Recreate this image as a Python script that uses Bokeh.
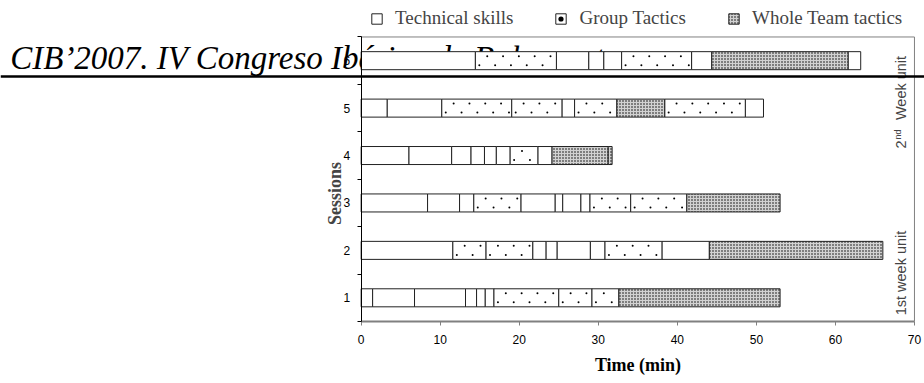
import math
import numpy as np
from bokeh.plotting import figure
from bokeh.models import (Label, Span, FixedTicker, Range1d, Legend, LegendItem,
                          ColumnDataSource)
from bokeh.core.properties import value
from bokeh.embed import file_html
from bokeh.resources import INLINE

# ---------------- data (minutes, cumulative segment end times) ----------------
sessions = [1, 2, 3, 4, 5, 6]
session1_ends = [1.45, 6.75, 13.2, 14.6, 15.7, 16.8, 25.0, 29.2, 32.6, 53.0]
session1_types = ["T", "T", "T", "T", "T", "T", "G", "G", "G", "W"]
session2_ends = [11.6, 15.8, 21.7, 23.4, 24.8, 29.0, 30.85, 38.05, 44.05, 66.0]
session2_types = ["T", "G", "G", "T", "T", "T", "T", "G", "T", "W"]
session3_ends = [8.4, 12.45, 14.25, 20.2, 24.55, 25.5, 27.8, 28.95, 34.1, 41.2, 53.0]
session3_types = ["T", "T", "T", "G", "T", "T", "T", "T", "G", "G", "W"]
session4_ends = [6.05, 11.45, 13.9, 15.6, 17.1, 18.85, 22.35, 24.15, 31.25, 31.75]
session4_types = ["T", "T", "T", "T", "T", "T", "G", "T", "W", "W"]
session5_ends = [3.3, 10.2, 19.05, 25.4, 27.0, 32.35, 38.4, 48.6, 50.9]
session5_types = ["T", "T", "G", "G", "T", "G", "W", "G", "T"]
session6_ends = [14.45, 24.7, 28.8, 30.7, 32.95, 41.8, 44.35, 61.6, 63.2]
session6_types = ["T", "G", "T", "T", "T", "G", "T", "W", "T"]

x_ticks = [0, 10, 20, 30, 40, 50, 60, 70]
type_names = {"T": "Technical skills", "G": "Group Tactics", "W": "Whole Team tactics"}
header_text = "CIB\u20192007. IV Congreso Ib\u00e9rico de Baloncesto"

all_ends = [session1_ends, session2_ends, session3_ends,
            session4_ends, session5_ends, session6_ends]
all_types = [session1_types, session2_types, session3_types,
             session4_types, session5_types, session6_types]

cols = {k: dict(y=[], left=[], right=[]) for k in type_names}
for s, ends, tps in zip(sessions, all_ends, all_types):
    start = 0.0
    for e, t in zip(ends, tps):
        cols[t]["y"].append(s)
        cols[t]["left"].append(start)
        cols[t]["right"].append(e)
        start = e

# ---------------- figure: frame covers the whole canvas ----------------
X0, X1 = x_ticks[0], x_ticks[-1]
Y0, Y1 = sessions[0] - 0.5, sessions[-1] + 0.5
p = figure(width=924, height=383, output_backend="svg", toolbar_location=None,
           x_range=Range1d(-45.63, 71.27), y_range=Range1d(-0.807, 7.269),
           min_border=0)
p.background_fill_color = "white"
p.border_fill_color = "white"
p.outline_line_color = None
p.xgrid.visible = False
p.ygrid.visible = False

# page header text (drawn first so that the bars cover it)
p.text(x=[-44.4], y=[6.067], text=[header_text], text_font=value("Liberation Serif"),
       text_font_style="italic", text_font_size="33px", text_color="black",
       text_baseline="middle", text_align="left")

# plot-area border (top and right, grey)
p.line(x=[X0, X1, X1], y=[Y1, Y1, Y0], line_color="#808080", line_width=1)

bar_h = 0.38
styles = {
    "T": dict(fill_color="white"),
    "G": dict(fill_color="white"),
    "W": dict(fill_color="#d2d2d2", hatch_pattern="dot", hatch_scale=3,
              hatch_color="black"),
}
renderers = {}
for t in ["T", "G", "W"]:
    src = ColumnDataSource(cols[t])
    renderers[t] = p.hbar(y="y", left="left", right="right", height=bar_h, source=src,
                          line_color="#222222", line_width=1, **styles[t])

# sparse stipple of the "Group Tactics" segments
dot_step, dot_row = 2.0, 0.095
sx, sy = [], []
for y, l, r in zip(cols["G"]["y"], cols["G"]["left"], cols["G"]["right"]):
    for off, dy in ((0.5, -dot_row), (1.5, dot_row)):
        xs = np.arange(l + off, r - 0.3, dot_step)
        sx.extend(xs.tolist())
        sy.extend([y + dy] * len(xs))
stipple = p.scatter(x=sx, y=sy, marker="circle", size=2.0, fill_color="black",
                    line_color=None)

# axes at fixed positions inside the frame
p.xaxis.fixed_location = Y0
p.xaxis.bounds = (X0, X1)
p.xaxis.ticker = FixedTicker(ticks=x_ticks)
p.xaxis.axis_line_color = "#808080"
p.xaxis.axis_line_width = 2
p.xaxis.major_tick_line_color = "#808080"
p.xaxis.major_tick_out = 4
p.xaxis.major_tick_in = 0
p.xaxis.minor_tick_line_color = None
p.xaxis.major_label_text_font = "Liberation Sans"
p.xaxis.major_label_text_font_size = "12px"
p.xaxis.major_label_text_color = "black"
p.xaxis.major_label_standoff = 9
p.xaxis.axis_label = "Time (min)"
p.xaxis.axis_label_text_font = "Liberation Serif"
p.xaxis.axis_label_text_font_style = "bold"
p.xaxis.axis_label_text_font_size = "18px"
p.xaxis.axis_label_text_color = "black"
p.xaxis.axis_label_standoff = 8

p.yaxis.fixed_location = X0
p.yaxis.bounds = (Y0, Y1)
p.yaxis.ticker = FixedTicker(ticks=sessions, minor_ticks=[s - 0.5 for s in sessions] + [Y1])
p.yaxis.axis_line_color = "black"
p.yaxis.axis_line_width = 1
p.yaxis.major_tick_out = 0
p.yaxis.major_tick_in = 0
p.yaxis.minor_tick_out = 4
p.yaxis.minor_tick_in = 0
p.yaxis.minor_tick_line_color = "black"
p.yaxis.major_label_text_font = "Liberation Sans"
p.yaxis.major_label_text_font_size = "12px"
p.yaxis.major_label_text_color = "black"
p.yaxis.major_label_standoff = 7

p.add_layout(Label(x=-3.25, y=3.2, text="Sessions", angle=math.pi / 2,
                   text_font="Liberation Serif", text_font_style="bold",
                   text_font_size="18px", text_align="center", text_baseline="middle"))

# right-hand unit labels
p.add_layout(Label(x=68.35, y=5.424, text="Week unit", angle=math.pi / 2,
                   text_font="Liberation Sans", text_font_size="14.5px",
                   text_align="center", text_baseline="middle"))
p.add_layout(Label(x=67.95, y=4.443, text="nd", angle=math.pi / 2,
                   text_font="Liberation Sans", text_font_size="9px",
                   text_align="center", text_baseline="middle"))
p.add_layout(Label(x=68.35, y=4.233, text="2", angle=math.pi / 2,
                   text_font="Liberation Sans", text_font_size="14.5px",
                   text_align="center", text_baseline="middle"))
p.add_layout(Label(x=68.35, y=1.523, text="1st week unit", angle=math.pi / 2,
                   text_font="Liberation Sans", text_font_size="14.5px",
                   text_align="center", text_baseline="middle"))

# heavy rule of the page header
p.add_layout(Span(location=5.667, dimension="width", line_color="black",
                  line_width=2.5, level="overlay"))

legend = Legend(items=[LegendItem(label=type_names["T"], renderers=[renderers["T"]]),
                       LegendItem(label=type_names["G"], renderers=[renderers["G"], stipple]),
                       LegendItem(label=type_names["W"], renderers=[renderers["W"]])],
                orientation="horizontal", location=(370, 354),
                padding=0, margin=0, spacing=41, glyph_width=13, glyph_height=13,
                label_standoff=12, label_text_font="Liberation Serif",
                label_text_font_size="19px", border_line_color=None,
                background_fill_alpha=0)
p.add_layout(legend)

open("out.html", "w").write(file_html(p, INLINE))
